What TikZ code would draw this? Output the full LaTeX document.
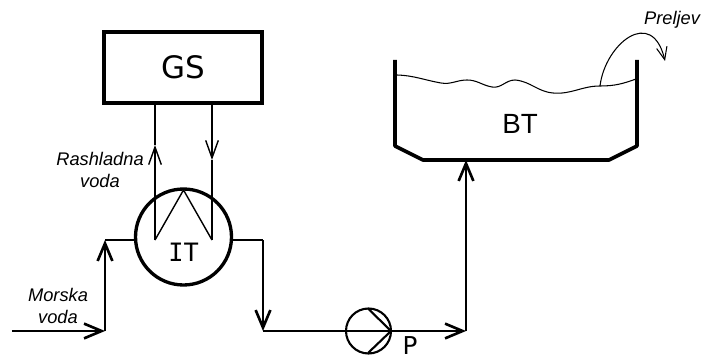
\documentclass[tikz,border=0pt]{standalone}
\usepackage{fontspec}
\setmainfont{Liberation Sans}
\newfontfamily\dejavu{DejaVu Sans}
\newfontfamily\dejavumono{DejaVu Sans Mono}
\usetikzlibrary{arrows.meta,calc,positioning}
\tikzset{
  pipe/.style={line width=0.8pt},
  thinpipe/.style={line width=0.4pt},
  vessel/.style={line width=1.05pt},
  tipa/.style={-{Straight Barb[length=5pt,width=4.2pt,line width=0.75pt]}},
  tipb/.style={-{Straight Barb[length=5pt,width=3.6pt,line width=0.4pt]}},
  tipc/.style={-{Straight Barb[length=3.6pt,width=3pt,line width=0.3pt]}},
  note/.style={font=\fontsize{5.2pt}{6.26pt}\selectfont\itshape,align=center,inner sep=0pt}
}
\begin{document}
\begin{tikzpicture}
       \useasboundingbox (0,0) rectangle (7.17,3.58);

       \coordinate (T1) at (3.95,2.98);
       \coordinate (T2) at (3.95,2.12);
       \coordinate (T3) at (4.23,1.98);
       \coordinate (T4) at (6.09,1.98);
       \coordinate (T5) at (6.37,2.12);
       \coordinate (T6) at (6.37,2.98);

       \coordinate (W1) at (3.97,2.83);
       \coordinate (W2) at (6.00,2.72);
       \coordinate (W3) at (6.36,2.79);
       \coordinate (O) at (6.65,2.97);

       \coordinate (M1) at (0.12,0.27);
       \coordinate (M2) at (1.05,0.27);
       \coordinate (M3) at (1.05,1.18);
       \coordinate (N1) at (2.63,1.18);
       \coordinate (N2) at (2.63,0.27);
       \coordinate (N3) at (4.66,0.27);
       \coordinate (N4) at (4.66,1.98);

       \coordinate (R1) at (1.55,1.18);
       \coordinate (R2) at (1.55,2.13);
       \coordinate (S1) at (2.12,1.18);
       \coordinate (S2) at (2.12,1.98);
       \coordinate (Z) at (1.835,1.68);

       \node[draw,line width=1pt,minimum width=1.58cm,minimum height=0.71cm,inner sep=0pt,font=\dejavu\fontsize{8.8pt}{10pt}\selectfont] (GS) at (1.83,2.905) {GS};
       \node[draw,circle,line width=0.95pt,minimum size=0.96cm,inner sep=0pt] (IT) at (1.835,1.21) {};
       \node[draw,circle,line width=0.6pt,minimum size=0.45cm,inner sep=0pt] (P) at (3.685,0.27) {};

       \coordinate (R3) at (R1 |- GS.south);
       \coordinate (S3) at (S1 |- GS.south);
       \coordinate (P1) at (3.68,0.495);
       \coordinate (P2) at (3.68,0.05);
       \coordinate (P3) at (3.91,0.27);

       \draw[vessel,line join=round] (T1) -- (T2) -- (T3) -- (T4) -- (T5) -- (T6);
       \draw[line width=0.3pt] (W1) to[out=-2,in=170] (4.41,2.75) to[out=-10,in=180] (4.67,2.78) to[out=0,in=170] (4.92,2.71) to[out=-10,in=180] (5.15,2.78) to[out=-5,in=175] (5.53,2.65) to[out=-5,in=180] (W2) to[out=0,in=200] (W3);
       \draw[line width=0.3pt,tipc] (W2) .. controls (6.05,3.14) and (6.52,3.52) .. (O);

       \draw[pipe,tipa] (M1) -- (M2);
       \draw[pipe,tipa] (M2) -- (M3);
       \draw[pipe] (M3) -- (IT.west |- M3);
       \draw[pipe] (IT.east |- N1) -- (N1);
       \draw[pipe,tipa] (N1) -- (N2);
       \draw[pipe,tipa] (N2) -- (N3);
       \draw[pipe,tipa] (N3) -- (N4);

       \draw[thinpipe,tipb] (R1) -- (R2);
       \draw[thinpipe] (R2) -- (R3);
       \draw[thinpipe,tipb] (S3) -- (S2);
       \draw[thinpipe] (S2) -- (S1);
       \draw[thinpipe] (R1) -- (Z) -- (S1);

       \draw[line width=0.6pt] (P1) -- (P3) -- (P2);

       \node[font=\dejavumono\fontsize{7.2pt}{8pt}\selectfont,inner sep=0pt] (ITL) at (1.835,1.06) {IT};
       \node[font=\fontsize{7.9pt}{9pt}\selectfont,inner sep=0pt] (BT) at (5.20,2.34) {BT};
       \node[font=\dejavu\fontsize{7pt}{8pt}\selectfont,inner sep=0pt] (PL) at (4.10,0.12) {P};
       \node[note] (RV) at (1.0,1.88) {Rashladna\\voda};
       \node[note] (MV) at (0.58,0.52) {Morska\\voda};
       \node[note] (PR) at (6.72,3.38) {Preljev};
\end{tikzpicture}
\end{document}
